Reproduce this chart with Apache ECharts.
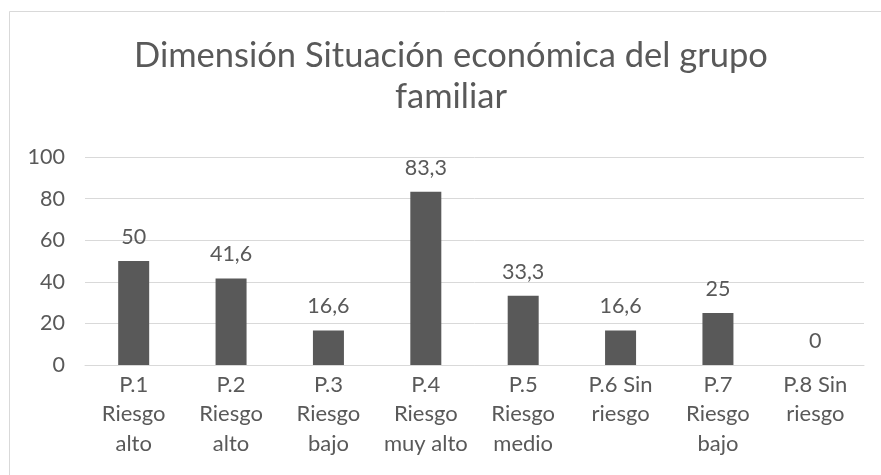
<!DOCTYPE html>
<html>
<head>
<meta charset="utf-8">
<script src="https://cdn.jsdelivr.net/npm/echarts@6/dist/echarts.min.js"></script>
<style>
  html, body { margin: 0; padding: 0; background: #fff; }
  #chart { width: 881px; height: 475px; }
</style>
</head>
<body>
<div id="chart"></div>
<script>
// Categories (question + risk level) and percentages per question
const categories = [
  'P.1\nRiesgo\nalto',
  'P.2\nRiesgo\nalto',
  'P.3\nRiesgo\nbajo',
  'P.4\nRiesgo\nmuy alto',
  'P.5\nRiesgo\nmedio',
  'P.6 Sin\nriesgo',
  'P.7\nRiesgo\nbajo',
  'P.8 Sin\nriesgo'
];
const values = [50, 41.6, 16.6, 83.3, 33.3, 16.6, 25, 0];
const yTicks = [0, 20, 40, 60, 80, 100];

const textColor = '#595959';
const fontFamily = 'Lato, "Open Sans", sans-serif';

const chart = echarts.init(document.getElementById('chart'), null, { renderer: 'canvas' });

chart.setOption({
  backgroundColor: '#fff',
  animation: false,
  textStyle: { fontFamily: fontFamily },
  graphic: [{
    type: 'rect',
    shape: { x: 9.5, y: 11.5, width: 880, height: 470 },
    style: { fill: 'none', stroke: '#d9d9d9', lineWidth: 1 },
    silent: true,
    z: -10
  }],
  title: {
    text: 'Dimensión Situación económica del grupo\nfamiliar',
    left: 446,
    textAlign: 'center',
    top: 30,
    textStyle: {
      color: textColor,
      fontFamily: fontFamily,
      fontSize: 34.5,
      fontWeight: 'normal',
      lineHeight: 41
    }
  },
  grid: { left: 85, right: 17, top: 157, bottom: 110, containLabel: false },
  xAxis: {
    type: 'category',
    data: categories,
    axisLine: { show: true, lineStyle: { color: '#d9d9d9', width: 1 } },
    axisTick: { show: false },
    axisLabel: {
      color: textColor,
      fontSize: 22,
      lineHeight: 29.5,
      margin: 5,
      interval: 0
    }
  },
  yAxis: {
    type: 'value',
    min: yTicks[0],
    max: yTicks[yTicks.length - 1],
    interval: 20,
    axisLine: { show: false },
    axisTick: { show: false },
    axisLabel: { color: textColor, fontSize: 21.5, margin: 20 },
    splitLine: { lineStyle: { color: '#d9d9d9', width: 1 } }
  },
  series: [{
    type: 'bar',
    data: values,
    barWidth: 31,
    itemStyle: { color: '#595959' },
    label: {
      show: true,
      position: 'top',
      distance: 13,
      color: textColor,
      fontSize: 21.5,
      formatter: p => String(p.value).replace('.', ',')
    }
  }]
});
</script>
</body>
</html>
